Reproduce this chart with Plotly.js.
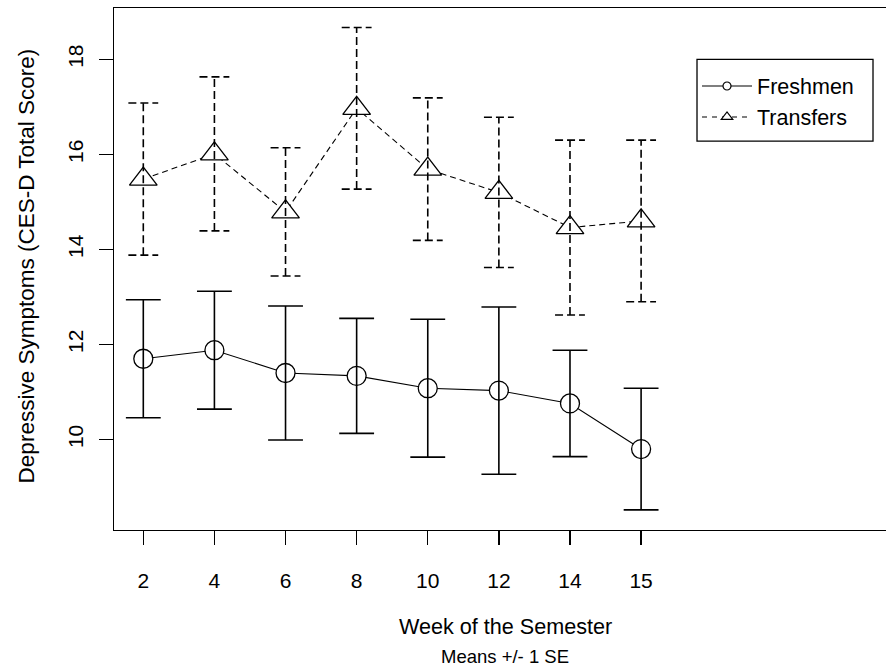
<!DOCTYPE html>
<html>
<head>
<meta charset="utf-8">
<script src="https://cdn.plot.ly/plotly-3.0.1.min.js"></script>
<style>
  html, body { margin: 0; padding: 0; overflow: hidden; background: #fff; }
  #chart { width: 890px; height: 671px; }
</style>
</head>
<body>
<div id="chart"></div>
<script>
// ---- data ----
var weeks = ['2', '4', '6', '8', '10', '12', '14', '15'];
var freshMean = [11.70, 11.88, 11.40, 11.34, 11.08, 11.03, 10.76, 9.80];
var freshSE   = [1.24, 1.24, 1.41, 1.21, 1.45, 1.76, 1.12, 1.28];
var transMean = [15.48, 16.01, 14.79, 16.97, 15.69, 15.20, 14.46, 14.60];
var transSE   = [1.60, 1.62, 1.35, 1.70, 1.50, 1.58, 1.84, 1.70];
var yTicks = [10, 12, 14, 16, 18];

var FONT = 'Liberation Sans, Arial, sans-serif';
var pos = weeks.map(function (w, i) { return i + 1; });

// build error-bar segments (vertical + caps) from means and SEs
function errorSegments(means, ses, half) {
  var xs = [], ys = [];
  for (var i = 0; i < means.length; i++) {
    var lo = means[i] - ses[i], hi = means[i] + ses[i], x = pos[i];
    xs.push(x, x, null); ys.push(lo, hi, null);
    xs.push(x - half, x + half, null); ys.push(hi, hi, null);
    xs.push(x - half, x + half, null); ys.push(lo, lo, null);
  }
  return {x: xs, y: ys};
}
var fErr = errorSegments(freshMean, freshSE, 0.245);
var tErr = errorSegments(transMean, transSE, 0.21);

var traces = [
  {
    name: 'Freshmen', x: pos, y: freshMean, type: 'scatter', mode: 'lines+markers', showlegend: false,
    line: {color: '#000', width: 1.1, dash: 'solid'},
    marker: {symbol: 'circle', size: 19, color: '#fff', line: {color: '#000', width: 1.3}},
    cliponaxis: false
  },
  {
    name: 'Transfers', x: pos, y: transMean, type: 'scatter', mode: 'lines+markers', showlegend: false,
    line: {color: '#000', width: 1.1, dash: '6px,4px'},
    marker: {symbol: 'triangle-up', size: 24, color: '#fff', line: {color: '#000', width: 1.3}},
    cliponaxis: false
  },
  {
    x: fErr.x, y: fErr.y, type: 'scatter', mode: 'lines', showlegend: false, hoverinfo: 'skip',
    line: {color: '#000', width: 1.6}, connectgaps: false
  },
  {
    x: tErr.x, y: tErr.y, type: 'scatter', mode: 'lines', showlegend: false, hoverinfo: 'skip',
    line: {color: '#000', width: 1.6, dash: '8px,4px'}, connectgaps: false
  },
  // legend keys (small symbols, as in the reference legend)
  {
    name: 'Freshmen', x: [null], y: [null], type: 'scatter', mode: 'lines+markers',
    line: {color: '#000', width: 1.1, dash: 'solid'},
    marker: {symbol: 'circle', size: 8, color: '#fff', line: {color: '#000', width: 1.2}}
  },
  {
    name: 'Transfers', x: [null], y: [null], type: 'scatter', mode: 'lines+markers',
    line: {color: '#000', width: 1.1, dash: '5px,5px'},
    marker: {symbol: 'triangle-up', size: 10, color: '#fff', line: {color: '#000', width: 1.2}}
  }
];

var layout = {
  width: 890, height: 671,
  margin: {l: 114, r: 0, t: 8, b: 141.3, pad: 0},
  paper_bgcolor: '#fff', plot_bgcolor: '#fff',
  font: {family: FONT, size: 21, color: '#000'},
  showlegend: true,
  legend: {
    x: 0.7513, y: 0.8898, xanchor: 'left', yanchor: 'top',
    bgcolor: 'rgba(0,0,0,0)', borderwidth: 0,
    font: {family: FONT, size: 21.5, color: '#000'},
    itemwidth: 50, itemsizing: 'trace', tracegroupgap: 0, traceorder: 'normal'
  },
  xaxis: {
    range: [0.588, 11.5], tickmode: 'array', tickvals: pos, ticktext: weeks,
    showgrid: false, zeroline: false,
    showline: true, mirror: true, linecolor: '#000', linewidth: 1.3,
    ticks: 'outside', ticklen: 14, tickwidth: 1.3, tickcolor: '#000',
    ticklabelstandoff: 17,
    tickfont: {family: FONT, size: 21, color: '#000'}
  },
  yaxis: {
    range: [8.097, 19.08], tickmode: 'array', tickvals: yTicks,
    showgrid: false, zeroline: false,
    showline: true, mirror: true, linecolor: '#000', linewidth: 1.3,
    ticks: 'outside', ticklen: 14, tickwidth: 1.3, tickcolor: '#000',
    tickangle: -90, ticklabelstandoff: 7,
    tickfont: {family: FONT, size: 21, color: '#000'}
  },
  shapes: [{
    type: 'rect', xref: 'paper', yref: 'paper',
    x0: 0.7513, x1: 0.9781, y0: 0.7451, y1: 0.9017,
    line: {color: '#000', width: 1.3}, fillcolor: 'rgba(0,0,0,0)'
  }],
  annotations: [
    {text: 'Week of the Semester', xref: 'paper', yref: 'paper', x: 0.5045, y: -0.1846,
     xanchor: 'center', yanchor: 'middle', showarrow: false,
     font: {family: FONT, size: 21.6, color: '#000'}},
    {text: 'Means +/- 1 SE', xref: 'paper', yref: 'paper', x: 0.5045, y: -0.2421,
     xanchor: 'center', yanchor: 'middle', showarrow: false,
     font: {family: FONT, size: 18.5, color: '#000'}},
    {text: 'Depressive Symptoms (CES-D Total Score)', xref: 'paper', yref: 'paper',
     x: -0.1134, y: 0.505, xanchor: 'center', yanchor: 'middle', textangle: -90, showarrow: false,
     font: {family: FONT, size: 22.5, color: '#000'}}
  ]
};

Plotly.newPlot('chart', traces, layout, {displayModeBar: false, staticPlot: true});
</script>
</body>
</html>
